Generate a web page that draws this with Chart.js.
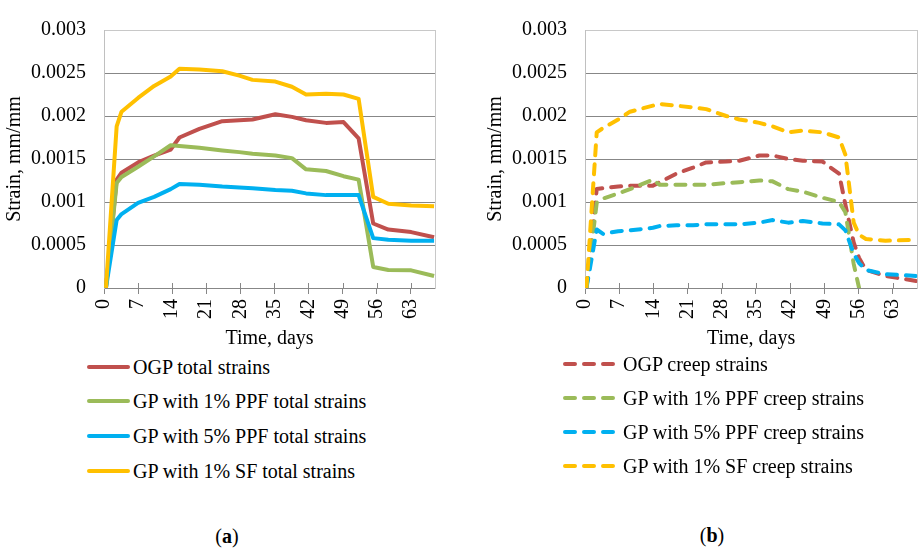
<!DOCTYPE html>
<html><head><meta charset="utf-8">
<script src="https://cdn.jsdelivr.net/npm/chart.js@4.4.1/dist/chart.umd.min.js"></script>
<style>
html,body{margin:0;padding:0;overflow:hidden;background:#fff;width:918px;height:549px;}
#wrap{position:relative;width:918px;height:549px;overflow:hidden;font-family:"Liberation Serif","Times New Roman",serif;color:#000;}
canvas{position:absolute;top:0;}
.row{position:absolute;font-size:20px;line-height:24px;white-space:nowrap;}
.sw{position:absolute;}
.cap{position:absolute;font-size:20px;line-height:24px;transform:translate(-50%,-50%);white-space:nowrap;}
</style></head><body><div id="wrap">
<canvas id="cA" width="440" height="355" style="left:0px"></canvas>
<canvas id="cB" width="441" height="355" style="left:481px"></canvas>
<div class="cap" style="left:227px;top:536px">(<b>a</b>)</div>
<div class="cap" style="left:712px;top:535px">(<b>b</b>)</div>
</div>
<script>
// ---- data ----
const dayTicks = [0, 7, 14, 21, 28, 35, 42, 49, 56, 63];
const strainTicks = [0, 0.0005, 0.001, 0.0015, 0.002, 0.0025, 0.003];
const strainTickLabels = ['0', '0.0005', '0.001', '0.0015', '0.002', '0.0025', '0.003'];

const totalLabels = ['OGP total strains', 'GP with 1% PPF total strains', 'GP with 5% PPF total strains', 'GP with 1% SF total strains'];
const creepLabels = ['OGP creep strains', 'GP with 1% PPF creep strains', 'GP with 5% PPF creep strains', 'GP with 1% SF creep strains'];

const totalDays = [0.4, 2.6, 3.6, 7, 10.3, 13.7, 15.5, 19.6, 24.3, 27.8, 30.5, 35.2, 38.6, 41.5, 45.6, 49.2, 52.3, 55.3, 58.4, 63.1, 67.8];
const ogpTotal  = [0, 0.00126, 0.00134, 0.00146, 0.00154, 0.00161, 0.00175, 0.00185, 0.00194, 0.00195, 0.00196, 0.00202, 0.00199, 0.00195, 0.00192, 0.00193, 0.00174, 0.00075, 0.00068, 0.00065, 0.00059];
const ppf1Total = [0, 0.00122, 0.00129, 0.00141, 0.00153, 0.00166, 0.00165, 0.00163, 0.0016, 0.00158, 0.00156, 0.00154, 0.00151, 0.00138, 0.00136, 0.0013, 0.00126, 0.000245, 0.00021, 0.000205, 0.00014];
const ppf5Total = [0, 0.00079, 0.00086, 0.00099, 0.00106, 0.00115, 0.00121, 0.0012, 0.00118, 0.00117, 0.00116, 0.00114, 0.00113, 0.0011, 0.00108, 0.00108, 0.00108, 0.00058, 0.00056, 0.00055, 0.00055];
const sfTotal   = [0, 0.00188, 0.00205, 0.00221, 0.00235, 0.00246, 0.00255, 0.00254, 0.00252, 0.00247, 0.00242, 0.0024, 0.00234, 0.00225, 0.00226, 0.00225, 0.0022, 0.00106, 0.00098, 0.00096, 0.00095];

const creepDays = [0.3, 2.4, 3.7, 6.8, 9.2, 13.9, 15.3, 18.7, 22.1, 24.8, 28.9, 31.6, 35.7, 38.4, 41.6, 44.6, 48.6, 52, 53.3, 55, 56.1, 57.5, 61.5, 68];
const ogpCreep  = [0, 0.00115, 0.00116, 0.00118, 0.00119, 0.00119, 0.00123, 0.00133, 0.0014, 0.00146, 0.00147, 0.00148, 0.00154, 0.00154, 0.0015, 0.00148, 0.00147, 0.00133, 0.00097, 0.00053, 0.00035, 0.00021, 0.00014, 0.00008];
const ppf1Creep = [0, 0.00099, 0.00104, 0.0011, 0.00115, 0.00126, 0.0012, 0.0012, 0.0012, 0.0012, 0.00122, 0.00123, 0.00125, 0.00124, 0.00115, 0.00112, 0.00105, 0.001, 0.00088, 0.00028, 0, null, null, null];
const ppf5Creep = [0, 0.00068, 0.00063, 0.00066, 0.00067, 0.0007, 0.00072, 0.00073, 0.00073, 0.00074, 0.00074, 0.00074, 0.00076, 0.00079, 0.00076, 0.00078, 0.00075, 0.00074, 0.00067, 0.0004, 0.00029, 0.00021, 0.00016, 0.00014];
const sfCreep   = [0, 0.00181, 0.00186, 0.00196, 0.00205, 0.00212, 0.00214, 0.00212, 0.0021, 0.00208, 0.002, 0.00196, 0.00192, 0.00188, 0.00181, 0.00183, 0.00181, 0.00175, 0.00155, 0.00076, 0.00062, 0.00057, 0.00055, 0.00056];

// ---- style ----
const colors = ['#C0504D', '#9BBB59', '#00B0F0', '#FFC000'];
const FONT = '"Liberation Serif", "Times New Roman", serif';
const font = {family: FONT, size: 20};

function pts(days, vals) {
  const out = [];
  days.forEach((d, i) => { if (vals[i] !== null) out.push({x: d, y: vals[i]}); });
  return out;
}

// small tick marks that cross the x axis (above it), positioned by the x scale
const crossTicks = {
  id: 'crossTicks',
  beforeDatasetsDraw(chart) {
    const xs = chart.scales.x, ctx = chart.ctx, b = chart.chartArea.bottom;
    ctx.save();
    ctx.strokeStyle = '#878787';
    ctx.lineWidth = 1;
    xs.ticks.forEach(t => {
      const px = Math.round(xs.getPixelForValue(t.value)) + 0.5;
      ctx.beginPath(); ctx.moveTo(px, b - 5); ctx.lineTo(px, b); ctx.stroke();
    });
    ctx.restore();
  }
};

function makeChart(id, days, seriesList, labels, dashed, padTop, padRight) {
  const datasets = seriesList.map((vals, i) => ({
    label: labels[i],
    data: pts(days, vals),
    borderColor: colors[i],
    backgroundColor: colors[i],
    borderWidth: 4,
    borderDash: dashed ? [10, 9] : [],
    borderCapStyle: dashed ? 'round' : 'butt',
    borderJoinStyle: 'round',
    pointRadius: 0,
    tension: 0,
    fill: false,
    order: seriesList.length - 1 - i
  }));
  return new Chart(document.getElementById(id), {
    type: 'line',
    data: {datasets},
    plugins: [crossTicks],
    options: {
      responsive: false,
      animation: false,
      devicePixelRatio: 1,
      layout: {padding: {left: 0, top: padTop, right: padRight, bottom: 0}},
      plugins: {legend: {display: false}, tooltip: {enabled: false}},
      scales: {
        x: {
          type: 'linear', min: 0, max: 68,
          afterBuildTicks: s => { s.ticks = dayTicks.map(v => ({value: v})); },
          afterFit: s => { s.height = 67; },
          ticks: {autoSkip: false, minRotation: 90, maxRotation: 90, padding: 5, color: '#000', font, callback: v => String(v)},
          grid: {drawOnChartArea: false, drawTicks: true, tickLength: 6, color: '#878787', lineWidth: 1},
          border: {color: '#878787', width: 1},
          title: {display: true, text: 'Time, days', color: '#000', font, padding: {top: 0, bottom: 4}}
        },
        y: {
          type: 'linear', min: 0, max: 0.003,
          afterBuildTicks: s => { s.ticks = strainTicks.map(v => ({value: v})); },
          afterFit: s => { s.width = 104; },
          ticks: {padding: 18, color: '#000', font, callback: v => strainTickLabels[strainTicks.indexOf(v)]},
          grid: {drawTicks: false, lineWidth: 1, color: c => (c.tick && c.tick.value >= 0.003) ? '#c8c8c8' : '#878787'},
          border: {color: '#c0c0c0', width: 1},
          title: {display: true, text: 'Strain, mm/mm', color: '#000', font, padding: {top: 3, bottom: 0}}
        },
        yR: {
          type: 'linear', position: 'right', min: 0, max: 1,
          afterFit: s => { s.width = 0; },
          ticks: {display: false},
          grid: {drawOnChartArea: false, drawTicks: false},
          border: {color: '#c8c8c8', width: 1}
        }
      }
    }
  });
}

const chartA = makeChart('cA', totalDays, [ogpTotal, ppf1Total, ppf5Total, sfTotal], totalLabels, false, 15, 4);
const chartB = makeChart('cB', creepDays, [ogpCreep, ppf1Creep, ppf5Creep, sfCreep], creepLabels, true, 13.5, 3);

function buildLegend(chart, lineLeft, lineRight, textLeft, firstY, step) {
  const wrap = document.getElementById('wrap');
  chart.data.datasets.forEach((ds, i) => {
    const cy = firstY + i * step;
    const w = lineRight - lineLeft + 4;
    const ns = 'http://www.w3.org/2000/svg';
    const svg = document.createElementNS(ns, 'svg');
    svg.setAttribute('width', w); svg.setAttribute('height', 10);
    svg.setAttribute('class', 'sw');
    svg.style.left = (lineLeft - 2) + 'px';
    svg.style.top = (cy - 5) + 'px';
    const ln = document.createElementNS(ns, 'line');
    ln.setAttribute('x1', 4); ln.setAttribute('x2', w - 4);
    ln.setAttribute('y1', 5); ln.setAttribute('y2', 5);
    ln.setAttribute('stroke', ds.borderColor);
    ln.setAttribute('stroke-width', 4);
    ln.setAttribute('stroke-linecap', 'round');
    if (ds.borderDash.length) ln.setAttribute('stroke-dasharray', ds.borderDash.join(' '));
    svg.appendChild(ln);
    wrap.appendChild(svg);
    const t = document.createElement('div');
    t.className = 'row';
    t.style.left = textLeft + 'px';
    t.style.top = (cy - 12) + 'px';
    t.textContent = ds.label;
    wrap.appendChild(t);
  });
}
buildLegend(chartA, 87, 130, 133, 366.5, 34.9);
buildLegend(chartB, 563, 617, 623, 363.5, 34.3);
</script>
</body></html>
